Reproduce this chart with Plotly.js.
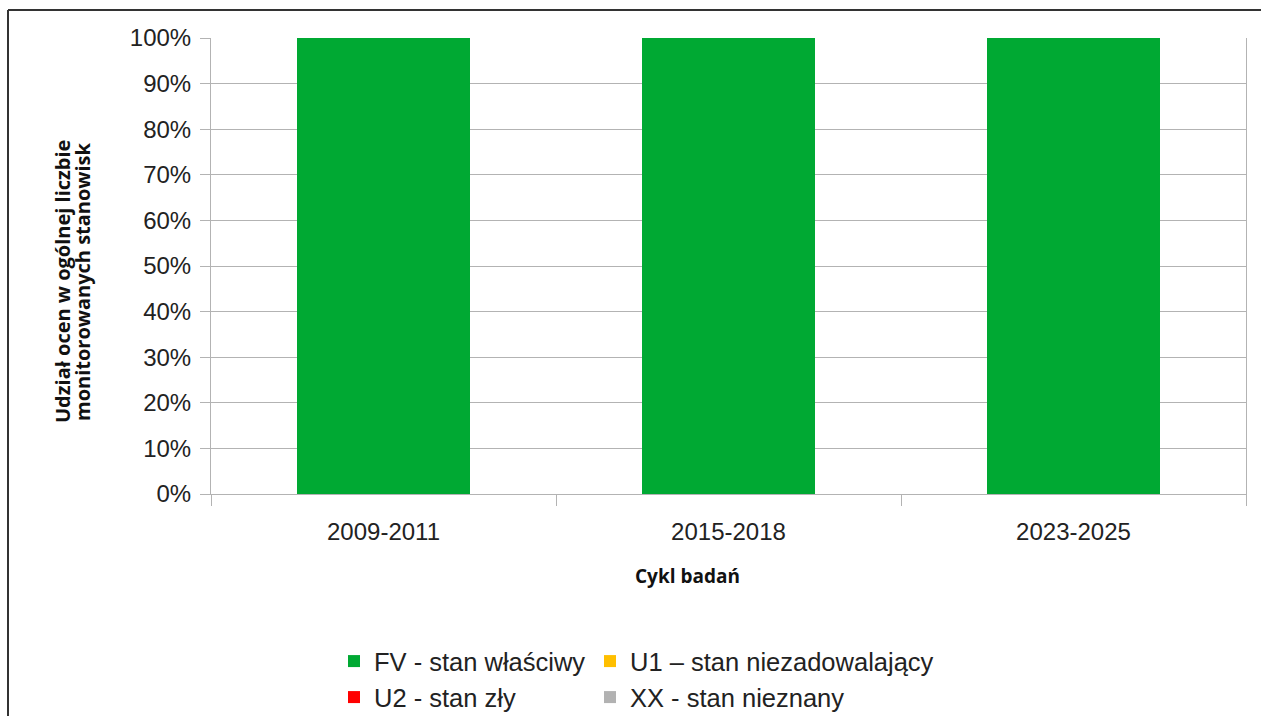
<!DOCTYPE html>
<html>
<head>
<meta charset="utf-8">
<script src="https://cdn.plot.ly/plotly-3.0.1.min.js"></script>
<style>html,body{margin:0;padding:0;background:#fff;}#chart{width:1261px;height:716px;}</style>
</head>
<body>
<div id="chart"></div>
<script>
const categories = ['2009-2011', '2015-2018', '2023-2025'];
const fvValues = [100, 100, 100];
const u1Values = [0, 0, 0];
const u2Values = [0, 0, 0];
const xxValues = [0, 0, 0];
const seriesNames = ['FV - stan właściwy', 'U1 – stan niezadowalający', 'U2 - stan zły', 'XX - stan nieznany'];
const yTickValues = [0, 10, 20, 30, 40, 50, 60, 70, 80, 90, 100];
const yTickLabels = ['0%', '10%', '20%', '30%', '40%', '50%', '60%', '70%', '80%', '90%', '100%'];

const colors = ['#00a933', '#ffbf00', '#ff0000', '#b2b2b2'];
const seriesValues = [fvValues, u1Values, u2Values, xxValues];
const legendIds = ['legend', 'legend2', 'legend3', 'legend4'];

const traces = seriesValues.map((v, i) => ({
  type: 'bar',
  name: seriesNames[i],
  x: categories,
  y: v,
  marker: {color: colors[i], line: {width: 0}},
  legend: legendIds[i],
  hoverinfo: 'none'
}));

const L = 211, W = 1035, T = 38, H = 456;
const px2x = p => (p - L) / W;
const py2y = p => (T + H - p) / H;

const tickFont = {family: '"Liberation Sans", Arial, sans-serif', size: 24, color: '#222'};
const legendFont = {family: '"Liberation Sans", Arial, sans-serif', size: 25.5, color: '#222'};
const titleFont = {family: '"Open Sans", sans-serif', size: 20, color: '#111', weight: 'bold'};

// legend grid: 2 columns x 2 rows
const legendCols = [334, 590];
const legendRows = [638, 674];
function legendAt(col, row) {
  return {
    orientation: 'h', x: px2x(legendCols[col]), xanchor: 'left', y: py2y(legendRows[row]), yanchor: 'top',
    font: legendFont, bgcolor: 'rgba(0,0,0,0)'
  };
}

const layout = {
  width: 1261, height: 716,
  margin: {l: L, r: 1261 - L - W, t: T, b: 716 - T - H, autoexpand: false},
  paper_bgcolor: '#fff', plot_bgcolor: '#fff',
  barmode: 'stack',
  bargap: 0.5,
  font: tickFont,
  showlegend: true,
  xaxis: {
    type: 'category',
    tickson: 'boundaries',
    ticks: 'outside', ticklen: 11, tickcolor: '#b3b3b3', tickwidth: 1,
    showgrid: false,
    showline: true, linecolor: '#b3b3b3', linewidth: 1,
    tickfont: tickFont,
    ticklabelstandoff: 16,
    automargin: false,
    fixedrange: true
  },
  yaxis: {
    range: [0, 100],
    tickmode: 'array',
    tickvals: yTickValues,
    ticktext: yTickLabels,
    ticks: 'outside', ticklen: 10, tickcolor: '#b3b3b3', tickwidth: 1,
    showgrid: true, gridcolor: '#b3b3b3', gridwidth: 1,
    showline: true, mirror: true, linecolor: '#b3b3b3', linewidth: 1,
    zeroline: false,
    tickfont: tickFont,
    ticklabelstandoff: 4,
    automargin: false,
    fixedrange: true
  },
  legend: legendAt(0, 0),
  legend2: legendAt(1, 0),
  legend3: legendAt(0, 1),
  legend4: legendAt(1, 1),
  annotations: [
    {
      text: 'Udział ocen w ogólnej liczbie',
      xref: 'paper', yref: 'paper', x: px2x(62), y: py2y(282),
      xanchor: 'center', yanchor: 'middle', textangle: -90, showarrow: false,
      font: titleFont
    },
    {
      text: 'monitorowanych stanowisk',
      xref: 'paper', yref: 'paper', x: px2x(82), y: py2y(282),
      xanchor: 'center', yanchor: 'middle', textangle: -90, showarrow: false,
      font: titleFont
    },
    {
      text: 'Cykl badań',
      xref: 'paper', yref: 'paper', x: px2x(687), y: py2y(576),
      xanchor: 'center', yanchor: 'middle', showarrow: false,
      font: {family: '"Open Sans", sans-serif', size: 19, color: '#111', weight: 'bold'}
    }
  ],
  shapes: [
    {type: 'line', xref: 'paper', yref: 'paper', x0: px2x(8), x1: px2x(1300), y0: py2y(10), y1: py2y(10), line: {color: '#333', width: 2}},
    {type: 'line', xref: 'paper', yref: 'paper', x0: px2x(8), x1: px2x(8), y0: py2y(10), y1: py2y(760), line: {color: '#333', width: 2}}
  ]
};

Plotly.newPlot('chart', traces, layout, {displayModeBar: false, staticPlot: true});
</script>
</body>
</html>
